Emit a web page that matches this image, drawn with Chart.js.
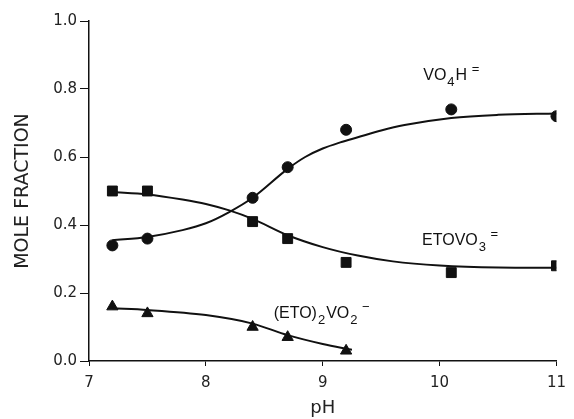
<!DOCTYPE html>
<html>
<head>
<meta charset="utf-8">
<script src="https://cdn.jsdelivr.net/npm/chart.js@4/dist/chart.umd.min.js"></script>
<style>
  html, body { margin: 0; padding: 0; background: #fff; }
  #wrap { width: 574px; height: 419px; }
</style>
</head>
<body>
<div id="wrap"><canvas id="myChart"></canvas></div>
<script>
// measured points
var phPts = [7.2, 7.5, 8.4, 8.7, 9.2, 10.1, 11.0];
var vo4h = [0.34, 0.36, 0.48, 0.57, 0.68, 0.74, 0.72];
var etovo3 = [0.50, 0.50, 0.41, 0.36, 0.29, 0.26, 0.28];
var phTri = [7.2, 7.5, 8.4, 8.7, 9.2];
var eto2vo2 = [0.16, 0.14, 0.10, 0.07, 0.03];

// fitted curves
var phFitA = [7.2, 7.5, 7.8, 8.0, 8.2, 8.4, 8.7, 8.85, 9.0, 9.15, 9.3, 9.5, 9.7, 10.1, 10.5, 11.0];
var fitVo4h = [0.355, 0.365, 0.385, 0.405, 0.438, 0.48, 0.565, 0.60, 0.625, 0.643, 0.658, 0.678, 0.694, 0.715, 0.724, 0.728];
var phFitB = [7.2, 7.5, 7.8, 8.0, 8.2, 8.4, 8.7, 9.0, 9.3, 9.6, 10.0, 10.5, 11.0];
var fitEtovo3 = [0.497, 0.49, 0.475, 0.462, 0.443, 0.418, 0.37, 0.335, 0.31, 0.293, 0.281, 0.275, 0.274];
var phFitC = [7.2, 7.5, 8.0, 8.4, 8.7, 9.0, 9.25];
var fitEto2 = [0.155, 0.15, 0.135, 0.11, 0.076, 0.05, 0.033];

var xTicks = [7, 8, 9, 10, 11];
var yTicks = [0.0, 0.2, 0.4, 0.6, 0.8, 1.0];

// species labels: anchor in data units, then pieces of text
var speciesLabels = [
  { x: 9.86, y: 0.826, parts: [['VO', 'n'], ['4', 'sub'], ['H', 'n'], [' =', 'sup']] },
  { x: 9.85, y: 0.341, parts: [['ETOVO', 'n'], ['3', 'sub'], [' =', 'sup']] },
  { x: 8.58, y: 0.127, parts: [['(ETO)', 'n'], ['2', 'sub'], ['VO', 'n'], ['2', 'sub'], [' \u2212', 'sup']] }
];

function pts(xs, ys) {
  return xs.map(function (x, i) { return { x: x, y: ys[i] }; });
}

var ink = '#111';
var fam = '"Liberation Sans", Arial, sans-serif';
var tickFam = '"DejaVu Sans", sans-serif';

var labelPlugin = {
  id: 'speciesLabels',
  afterDatasetsDraw: function (chart) {
    var ctx = chart.ctx;
    var xs = chart.scales.x, ys = chart.scales.y;
    ctx.save();
    ctx.fillStyle = ink;
    ctx.textBaseline = 'alphabetic';
    ctx.textAlign = 'left';
    speciesLabels.forEach(function (lb) {
      var px = xs.getPixelForValue(lb.x);
      var py = ys.getPixelForValue(lb.y);
      lb.parts.forEach(function (p) {
        var size = 16, dy = 0;
        if (p[1] === 'sub') { size = 13; dy = 6; }
        if (p[1] === 'sup') { size = 13; dy = -7; }
        ctx.font = size + 'px ' + fam;
        ctx.fillText(p[0], px, py + dy);
        px += ctx.measureText(p[0]).width + 1;
      });
    });
    ctx.restore();
  }
};

var lineStyle = { showLine: true, pointRadius: 0, borderColor: ink, borderWidth: 2, cubicInterpolationMode: 'monotone', fill: false };
var markStyle = { showLine: false, pointRadius: 5.5, backgroundColor: ink, borderColor: ink, borderWidth: 1 };

var data1 = {
  datasets: [
    Object.assign({ label: 'VO4H fit', data: pts(phFitA, fitVo4h) }, lineStyle),
    Object.assign({ label: 'ETOVO3 fit', data: pts(phFitB, fitEtovo3) }, lineStyle),
    Object.assign({ label: '(ETO)2VO2 fit', data: pts(phFitC, fitEto2) }, lineStyle),
    Object.assign({ label: 'VO4H', data: pts(phPts, vo4h), pointStyle: 'circle' }, markStyle),
    Object.assign({ label: 'ETOVO3', data: pts(phPts, etovo3), pointStyle: 'rect' }, markStyle, { pointRadius: 7 }),
    Object.assign({ label: '(ETO)2VO2', data: pts(phTri, eto2vo2), pointStyle: 'triangle' }, markStyle, { pointRadius: 6.5 })
  ]
};

var config1 = {
  type: 'scatter',
  data: data1,
  plugins: [labelPlugin],
  options: {
    responsive: true,
    maintainAspectRatio: false,
    animation: false,
    layout: { padding: { top: 21, right: 13, left: 0, bottom: 0 } },
    plugins: {
      legend: { display: false },
      tooltip: { enabled: false }
    },
    scales: {
      x: {
        type: 'linear',
        min: 7, max: 11,
        afterFit: function (s) { s.height = 58; },
        afterBuildTicks: function (s) { s.ticks = xTicks.map(function (v) { return { value: v }; }); },
        grid: { drawOnChartArea: false, drawTicks: true, tickLength: 5, color: ink },
        border: { display: true, color: ink, width: 1.5 },
        ticks: { color: '#222', font: { family: tickFam, size: 15 }, padding: 8 },
        title: { display: true, text: 'pH', color: '#222', font: { family: tickFam, size: 18 }, padding: { top: 0, bottom: 0 } }
      },
      y: {
        type: 'linear',
        min: 0, max: 1,
        afterFit: function (s) { s.width = 89; },
        afterBuildTicks: function (s) { s.ticks = yTicks.map(function (v) { return { value: v }; }); },
        grid: { drawOnChartArea: false, drawTicks: true, tickLength: 9, color: ink },
        border: { display: true, color: ink, width: 1.5 },
        ticks: {
          color: '#222', font: { family: tickFam, size: 15 }, padding: 3,
          callback: function (v) { return Number(v).toFixed(1); }
        },
        title: { display: true, text: 'MOLE FRACTION', color: '#222', font: { family: tickFam, size: 19 }, padding: { top: 12, bottom: 0 } }
      }
    }
  }
};

var ctx1 = document.getElementById('myChart').getContext('2d');
var mychart1 = new Chart(ctx1, config1);
</script>
</body>
</html>
